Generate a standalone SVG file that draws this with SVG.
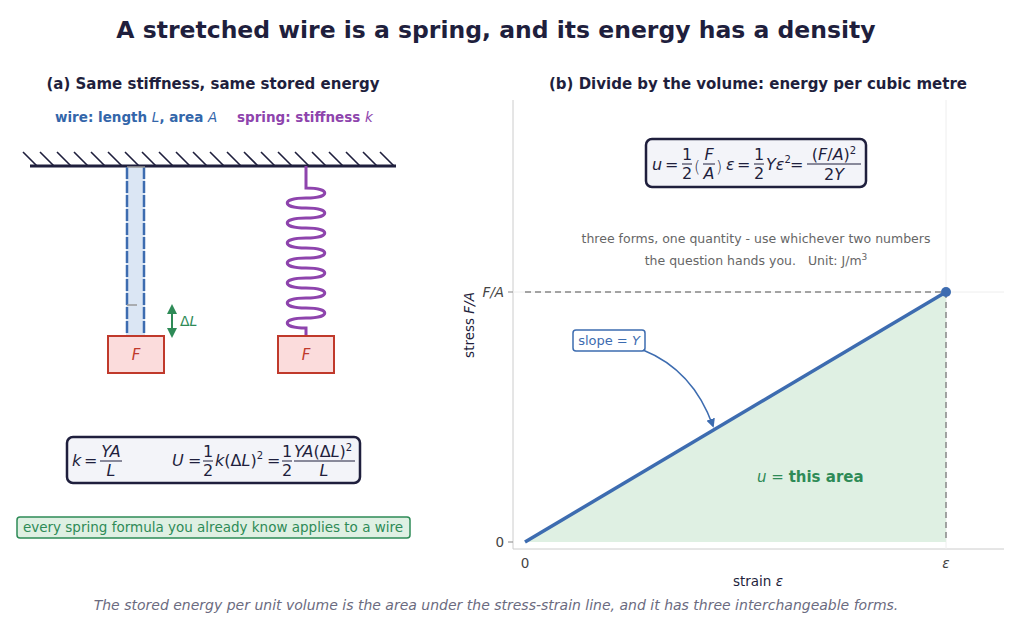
<svg xmlns="http://www.w3.org/2000/svg" width="1024" height="633" viewBox="0 0 1024 633">
<style>
.t{font-family:"DejaVu Sans",sans-serif;fill:#1f1f3d}
.m{font-family:"DejaVu Sans",sans-serif;fill:#1f1f3d;font-size:16px}
.i{font-style:italic}
</style>
<defs>
<marker id="ga" viewBox="0 0 10 10" refX="5" refY="5" markerWidth="5" markerHeight="5" orient="auto-start-reverse"><path d="M0,0L10,5L0,10z" fill="#2e8b57"/></marker>
<marker id="ba" viewBox="0 0 10 10" refX="8" refY="5" markerWidth="6" markerHeight="6" orient="auto"><path d="M0,0L10,5L0,10z" fill="#3d6cb0"/></marker>
</defs>
<rect width="1024" height="633" fill="#fff"/>
<text class="t" x="496" y="38" text-anchor="middle" font-size="23.5" font-weight="bold">A stretched wire is a spring, and its energy has a density</text>
<text class="t" x="213" y="89" text-anchor="middle" font-size="15" font-weight="bold">(a) Same stiffness, same stored energy</text>
<text x="55" y="122" font-family="DejaVu Sans,sans-serif" font-size="13.5" font-weight="bold" fill="#3366aa">wire: length <tspan font-style="italic" font-weight="normal">L</tspan>, area <tspan font-style="italic" font-weight="normal">A</tspan></text>
<text x="237" y="122" font-family="DejaVu Sans,sans-serif" font-size="13.5" font-weight="bold" fill="#8e44ad">spring: stiffness <tspan font-style="italic" font-weight="normal">k</tspan></text>
<g id="ceiling" stroke="#1f1f3d">
<path d="M23,152l14,14M40,152l14,14M57,152l14,14M74,152l14,14M91,152l14,14M108,152l14,14M125,152l14,14M142,152l14,14M159,152l14,14M176,152l14,14M193,152l14,14M210,152l14,14M227,152l14,14M244,152l14,14M261,152l14,14M278,152l14,14M295,152l14,14M312,152l14,14M329,152l14,14M346,152l14,14M363,152l14,14M380,152l14,14" stroke-width="1.6"/>
<line x1="30" y1="166" x2="396" y2="166" stroke-width="3"/>
</g>
<g id="wire">
<rect x="126" y="167" width="19" height="169" fill="#dbe6f4"/>
<line x1="127" y1="167" x2="127" y2="336" stroke="#3d6cb0" stroke-width="2.5" stroke-dasharray="12,2"/>
<line x1="144" y1="167" x2="144" y2="336" stroke="#3d6cb0" stroke-width="2.5" stroke-dasharray="12,2"/>
<path d="M127,305h10M127,167h18" stroke="#999" stroke-width="1.5" fill="none"/>
<line x1="172" y1="309" x2="172" y2="333" stroke="#2e8b57" stroke-width="2" marker-start="url(#ga)" marker-end="url(#ga)"/>
<text x="180" y="326" font-family="DejaVu Sans,sans-serif" font-size="14" fill="#2e8b57">Δ<tspan font-style="italic">L</tspan></text>
</g>
<g id="mass1"><rect x="108" y="336" width="56" height="37" fill="#fbdcdc" stroke="#c0392b" stroke-width="2"/><text x="136" y="360" text-anchor="middle" font-family="DejaVu Sans,sans-serif" font-size="15" font-style="italic" fill="#c0392b">F</text></g>
<g id="spring"><path d="M306,166V188C331,188 331,198 306,198C281,198 281,208 306,208C331,208 331,218 306,218C281,218 281,228 306,228C331,228 331,238 306,238C281,238 281,248 306,248C331,248 331,258 306,258C281,258 281,268 306,268C331,268 331,278 306,278C281,278 281,288 306,288C331,288 331,298 306,298C281,298 281,308 306,308C331,308 331,318 306,318C281,318 281,328 306,328V336" fill="none" stroke="#8e44ad" stroke-width="3"/></g>
<g id="mass2"><rect x="278" y="336" width="56" height="37" fill="#fbdcdc" stroke="#c0392b" stroke-width="2"/><text x="306" y="360" text-anchor="middle" font-family="DejaVu Sans,sans-serif" font-size="15" font-style="italic" fill="#c0392b">F</text></g>
<g id="formula1">
<rect x="67" y="437" width="293" height="46" rx="6" fill="#f3f4f9" stroke="#1f1f3d" stroke-width="2.5"/>
<text class="m" x="72" y="466"><tspan class="i">k</tspan></text><text class="m" x="84" y="466">=</text>
<text class="m" x="111" y="457" text-anchor="middle" font-size="14"><tspan class="i">YA</tspan></text>
<line x1="100" y1="461" x2="122" y2="461" stroke="#1f1f3d"/>
<text class="m" x="111" y="476" text-anchor="middle" font-size="14" font-style="italic">L</text>
<text class="m" x="172" y="466"><tspan class="i">U</tspan></text><text class="m" x="188" y="466">=</text>
<text class="m" x="208" y="457" text-anchor="middle" font-size="13">1</text><line x1="203" y1="461" x2="213" y2="461" stroke="#1f1f3d"/><text class="m" x="208" y="476" text-anchor="middle" font-size="13">2</text>
<text class="m" x="215" y="466"><tspan class="i">k</tspan>(Δ<tspan class="i">L</tspan>)<tspan font-size="10" dy="-7">2</tspan></text><text class="m" x="267" y="466">=</text>
<text class="m" x="287" y="457" text-anchor="middle" font-size="13">1</text><line x1="282" y1="461" x2="292" y2="461" stroke="#1f1f3d"/><text class="m" x="287" y="476" text-anchor="middle" font-size="13">2</text>
<text class="m" x="294" y="457" font-size="14"><tspan class="i">YA</tspan>(Δ<tspan class="i">L</tspan>)<tspan font-size="10" dy="-6">2</tspan></text>
<line x1="294" y1="461" x2="355" y2="461" stroke="#1f1f3d"/>
<text class="m" x="324" y="476" text-anchor="middle" font-size="14" font-style="italic">L</text>
</g>
<g id="note1"><rect x="17" y="517" width="393" height="21" rx="3" fill="#dff0e3" stroke="#2e8b57" stroke-width="1.5"/><text x="213" y="532" text-anchor="middle" font-family="DejaVu Sans,sans-serif" font-size="13.5" fill="#2e8b57">every spring formula you already know applies to a wire</text></g>
<text class="t" x="758" y="89" text-anchor="middle" font-size="15" font-weight="bold">(b) Divide by the volume: energy per cubic metre</text>
<g id="chart">
<line x1="513" y1="100" x2="513" y2="549" stroke="#ccc"/>
<line x1="513" y1="549" x2="1004" y2="549" stroke="#ccc"/>
<line x1="946" y1="100" x2="946" y2="549" stroke="#eee"/>
<line x1="513" y1="292" x2="1004" y2="292" stroke="#eee"/>
<polygon points="525,542 946,292 946,542" fill="#dff0e3"/>
<line x1="525" y1="292" x2="946" y2="292" stroke="#888" stroke-width="1.5" stroke-dasharray="6,4"/>
<line x1="946" y1="292" x2="946" y2="542" stroke="#888" stroke-width="1.5" stroke-dasharray="6,4"/>
<line x1="525" y1="542" x2="946" y2="292" stroke="#3d6cb0" stroke-width="3.5"/>
<circle cx="946" cy="292" r="5" fill="#3d6cb0"/>
<line x1="508" y1="292" x2="513" y2="292" stroke="#888"/><line x1="508" y1="542" x2="513" y2="542" stroke="#888"/>
<text x="504" y="297" text-anchor="end" font-family="DejaVu Sans,sans-serif" font-size="13.5" font-style="italic" fill="#444">F/A</text>
<text x="504" y="547" text-anchor="end" font-family="DejaVu Sans,sans-serif" font-size="13.5" fill="#444">0</text>
<text x="525" y="568" text-anchor="middle" font-family="DejaVu Sans,sans-serif" font-size="13.5" fill="#444">0</text>
<text x="946" y="568" text-anchor="middle" font-family="DejaVu Sans,sans-serif" font-size="13.5" font-style="italic" fill="#444">ε</text>
<text x="758" y="586" text-anchor="middle" font-family="DejaVu Sans,sans-serif" font-size="13.5" fill="#1f1f3d">strain  <tspan font-style="italic">ε</tspan></text>
<text transform="translate(474,325) rotate(-90)" text-anchor="middle" font-family="DejaVu Sans,sans-serif" font-size="13.5" fill="#1f1f3d">stress  <tspan font-style="italic">F/A</tspan></text>
<text x="757" y="482" font-family="DejaVu Sans,sans-serif" font-size="15" fill="#2e8b57"><tspan font-style="italic">u</tspan> = <tspan font-weight="bold">this area</tspan></text>
</g>
<g id="slope"><rect x="573" y="330" width="72" height="21" rx="3" fill="#fff" stroke="#3d6cb0" stroke-width="1.5"/><text x="609" y="345" text-anchor="middle" font-family="DejaVu Sans,sans-serif" font-size="13" fill="#3d6cb0">slope  = <tspan font-style="italic">Y</tspan></text></g>
<g id="connectors"><path d="M643,350 Q693,370 713,426" fill="none" stroke="#3d6cb0" stroke-width="1.5" marker-end="url(#ba)"/></g>
<g id="formula2">
<rect x="646" y="139" width="220" height="48" rx="6" fill="#f3f4f9" stroke="#1f1f3d" stroke-width="2.5"/>
<text class="m" x="652" y="170"><tspan class="i">u</tspan></text><text class="m" x="665" y="170">=</text>
<text class="m" x="687" y="160" text-anchor="middle" font-size="13">1</text><line x1="682" y1="164" x2="692" y2="164" stroke="#1f1f3d"/><text class="m" x="687" y="179" text-anchor="middle" font-size="13">2</text>
<text class="m" x="694" y="172" font-size="22" font-weight="200">(</text>
<text class="m" x="709" y="160" text-anchor="middle" font-size="13" font-style="italic">F</text><line x1="703" y1="164" x2="715" y2="164" stroke="#1f1f3d"/><text class="m" x="709" y="179" text-anchor="middle" font-size="13" font-style="italic">A</text>
<text class="m" x="716" y="172" font-size="22" font-weight="200">)</text>
<text class="m" x="726" y="170"><tspan class="i">ε</tspan></text><text class="m" x="737" y="170">=</text>
<text class="m" x="759" y="160" text-anchor="middle" font-size="13">1</text><line x1="754" y1="164" x2="764" y2="164" stroke="#1f1f3d"/><text class="m" x="759" y="179" text-anchor="middle" font-size="13">2</text>
<text class="m" x="766" y="170"><tspan class="i">Yε</tspan><tspan font-size="10" dy="-7">2</tspan></text><text class="m" x="790" y="170">=</text>
<text class="m" x="834" y="160" text-anchor="middle" font-size="14">(<tspan class="i">F</tspan>/<tspan class="i">A</tspan>)<tspan font-size="10" dy="-6">2</tspan></text>
<line x1="807" y1="164" x2="861" y2="164" stroke="#1f1f3d"/>
<text class="m" x="834" y="180" text-anchor="middle" font-size="14">2<tspan class="i">Y</tspan></text>
</g>
<text x="756" y="243" text-anchor="middle" font-family="DejaVu Sans,sans-serif" font-size="12.5" fill="#666">three forms, one quantity - use whichever two numbers</text>
<text x="756" y="265" text-anchor="middle" font-family="DejaVu Sans,sans-serif" font-size="12.5" fill="#666" xml:space="preserve">the question hands you.   Unit: J/m<tspan font-size="9" dy="-5">3</tspan></text>
<text x="496" y="610" text-anchor="middle" font-family="DejaVu Sans,sans-serif" font-size="14" font-style="italic" fill="#6b6b80">The stored energy per unit volume is the area under the stress-strain line, and it has three interchangeable forms.</text>
</svg>
